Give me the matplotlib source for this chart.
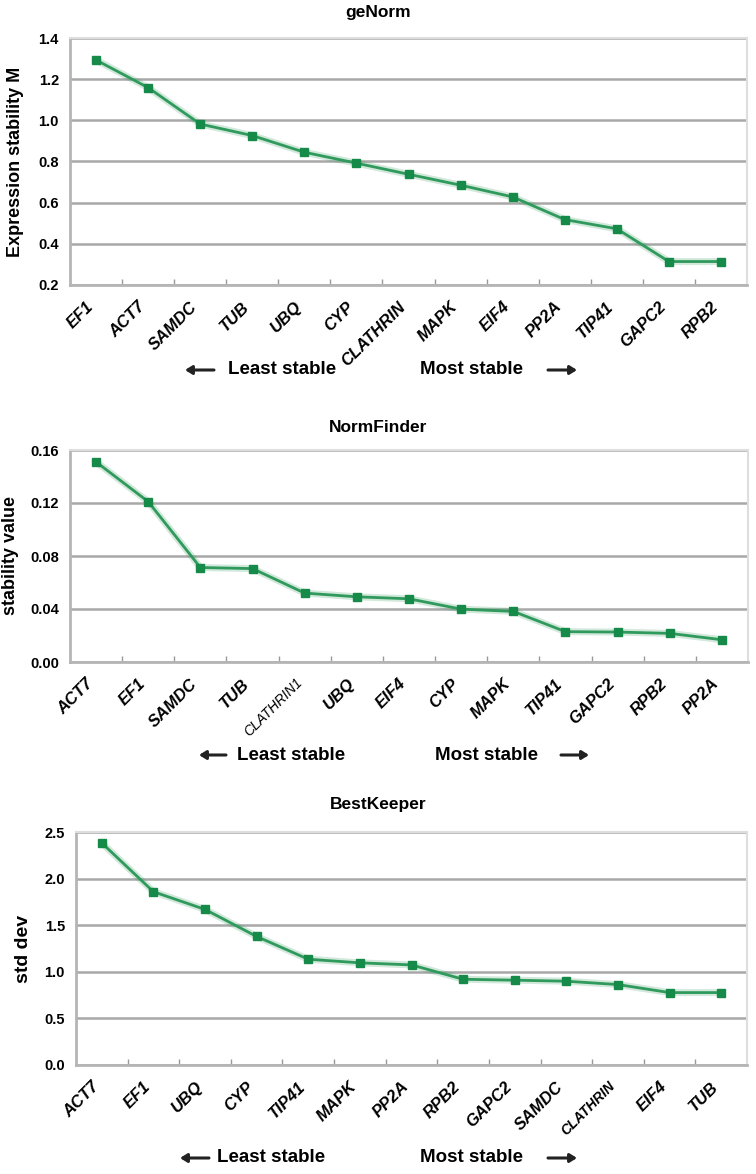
import matplotlib
matplotlib.use("Agg")
import matplotlib.pyplot as plt

plt.rcParams['font.family'] = ['Liberation Sans', 'DejaVu Sans']

# ---------------- data ----------------
genorm_genes = ["EF1", "ACT7", "SAMDC", "TUB", "UBQ", "CYP", "CLATHRIN", "MAPK",
                "EIF4", "PP2A", "TIP41", "GAPC2", "RPB2"]
genorm_values = [1.293, 1.159, 0.982, 0.926, 0.845, 0.792, 0.738, 0.685,
                 0.628, 0.518, 0.473, 0.314, 0.314]

normfinder_genes = ["ACT7", "EF1", "SAMDC", "TUB", "CLATHRIN1", "UBQ", "EIF4", "CYP",
                    "MAPK", "TIP41", "GAPC2", "RPB2", "PP2A"]
normfinder_values = [0.151, 0.121, 0.0713, 0.0705, 0.052, 0.0492, 0.0477, 0.0399,
                     0.0382, 0.0229, 0.0226, 0.0216, 0.0168]

bestkeeper_genes = ["ACT7", "EF1", "UBQ", "CYP", "TIP41", "MAPK", "PP2A", "RPB2",
                    "GAPC2", "SAMDC", "CLATHRIN", "EIF4", "TUB"]
bestkeeper_values = [2.382, 1.859, 1.669, 1.379, 1.135, 1.096, 1.074, 0.920,
                     0.910, 0.899, 0.863, 0.777, 0.777]

genorm_ticks = [0.2, 0.4, 0.6, 0.8, 1.0, 1.2, 1.4]
normfinder_ticks = [0.00, 0.04, 0.08, 0.12, 0.16]
bestkeeper_ticks = [0.0, 0.5, 1.0, 1.5, 2.0, 2.5]

# ---------------- style ----------------
W, H = 756, 1174
fig = plt.figure(figsize=(W / 100, H / 100), dpi=100)

LINE = '#2f9a5c'
MARK = '#168a48'
GRID = '#a8a8a8'


def px_rect(left, right, top, bottom):
    return [left / W, 1 - bottom / H, (right - left) / W, (bottom - top) / H]


def panel(rect, genes, values, ticks, fmt, title, title_y, ylabel, ylabel_x, ylabel_size,
          small_label=None, small_weight='bold', small_size=9.5,
          arrows_y=None, text_x=None, arrow_x=None):
    ax = fig.add_axes(px_rect(*rect))
    x = list(range(len(genes)))
    ax.plot(x, values, color=LINE, lw=5, alpha=0.22, solid_capstyle='round', zorder=3)
    ax.plot(x, values, color=LINE, lw=2, marker='s', ms=5.5, mfc=MARK, mec=MARK, zorder=4)
    ax.set_xlim(-0.5, len(genes) - 0.5)
    ax.set_ylim(ticks[0], ticks[-1])
    ax.set_yticks(ticks)
    ax.set_yticklabels([fmt.format(t) for t in ticks], fontsize=10.5, fontweight='bold')
    ax.yaxis.grid(True, color=GRID, lw=1.8)
    ax.set_axisbelow(True)
    ax.tick_params(axis='y', length=0, pad=8)
    # category boundaries as ticks
    ax.set_xticks([i + 0.5 for i in range(len(genes) - 1)], minor=False)
    ax.set_xticklabels([])
    ax.tick_params(axis='x', which='major', direction='in', length=4, color='#999999', width=1)
    ax.set_xticks(x, minor=True)
    ax.set_xticklabels(genes, minor=True, rotation=45, ha='right', va='top',
                       fontsize=12, fontweight='bold', fontstyle='italic')
    ax.tick_params(axis='x', which='minor', length=0, pad=10)
    if small_label is not None:
        for lab in ax.get_xticklabels(minor=True):
            if lab.get_text() == small_label:
                lab.set_fontsize(small_size)
                lab.set_fontweight(small_weight)
    for side in ['left', 'bottom']:
        ax.spines[side].set_color('#b5b5b5')
        ax.spines[side].set_linewidth(2)
    for side in ['top', 'right']:
        ax.spines[side].set_color('#dedede')
        ax.spines[side].set_linewidth(1.5)

    fig.text(0.5, 1 - title_y / H, title, ha='center', va='center',
             fontsize=12.5, fontweight='bold')
    yc = 1 - (rect[2] + rect[3]) / 2 / H
    fig.text(ylabel_x / W, yc, ylabel, rotation=90, ha='center', va='center',
             fontsize=ylabel_size, fontweight='bold')
    yy = 1 - arrows_y / H
    fig.text(text_x[0] / W, yy, 'Least stable', ha='center', va='center',
             fontsize=13.5, fontweight='bold')
    fig.text(text_x[1] / W, yy, 'Most stable', ha='center', va='center',
             fontsize=13.5, fontweight='bold')
    fig.add_artist(matplotlib.patches.FancyArrowPatch(
        (arrow_x[1] / W, yy), (arrow_x[0] / W, yy), transform=fig.transFigure,
        arrowstyle='-|>,head_length=4,head_width=2.5', color='#222222', lw=2.2,
        shrinkA=0, shrinkB=0))
    fig.add_artist(matplotlib.patches.FancyArrowPatch(
        (arrow_x[2] / W, yy), (arrow_x[3] / W, yy), transform=fig.transFigure,
        arrowstyle='-|>,head_length=4,head_width=2.5', color='#222222', lw=2.2,
        shrinkA=0, shrinkB=0))
    return ax


panel((70, 747, 38, 285), genorm_genes, genorm_values, genorm_ticks, '{:.1f}',
      'geNorm', 12, 'Expression stability M', 16, 13,
      arrows_y=370, text_x=(282, 472), arrow_x=(185, 214, 548, 577))

panel((70, 748, 450, 662), normfinder_genes, normfinder_values, normfinder_ticks, '{:.2f}',
      'NormFinder', 427, 'stability value', 11, 13,
      small_label='CLATHRIN1', small_weight='normal', small_size=10,
      arrows_y=755, text_x=(291, 486), arrow_x=(199, 226, 561, 589))

panel((76, 747, 832, 1065), bestkeeper_genes, bestkeeper_values, bestkeeper_ticks, '{:.1f}',
      'BestKeeper', 805, 'std dev', 24, 14,
      small_label='CLATHRIN', small_weight='bold', small_size=10,
      arrows_y=1158, text_x=(271, 472), arrow_x=(180, 209, 548, 577))

fig.savefig('out.png', dpi=100)
